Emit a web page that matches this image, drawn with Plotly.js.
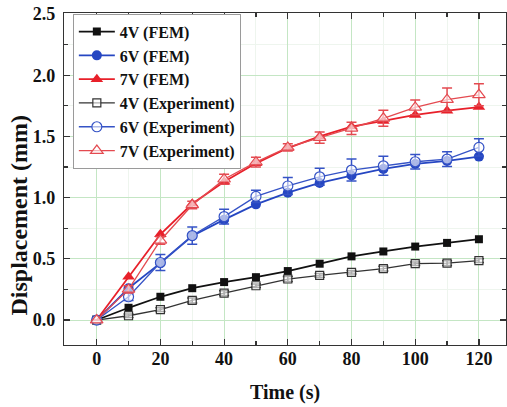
<!DOCTYPE html>
<html>
<head>
<meta charset="utf-8">
<script src="https://cdn.plot.ly/plotly-3.0.1.min.js"></script>
<style>html,body{margin:0;padding:0;background:#fff;}#chart{width:507px;height:407px;}</style>
</head>
<body>
<div id="chart"></div>
<script>
const time = [0, 10, 20, 30, 40, 50, 60, 70, 80, 90, 100, 110, 120];
const fem4 = [0, 0.10, 0.19, 0.26, 0.31, 0.35, 0.40, 0.46, 0.52, 0.56, 0.60, 0.63, 0.66];
const fem6 = [0, 0.26, 0.465, 0.686, 0.82, 0.945, 1.04, 1.12, 1.18, 1.234, 1.275, 1.30, 1.335];
const fem7 = [0, 0.354, 0.70, 0.95, 1.13, 1.28, 1.405, 1.50, 1.58, 1.626, 1.675, 1.71, 1.74];
const exp4 = [0, 0.035, 0.085, 0.16, 0.22, 0.28, 0.335, 0.365, 0.39, 0.42, 0.46, 0.465, 0.485];
const exp6 = [0, 0.19, 0.47, 0.69, 0.845, 1.01, 1.095, 1.17, 1.225, 1.26, 1.293, 1.315, 1.41];
const exp7 = [0, 0.25, 0.65, 0.94, 1.15, 1.29, 1.41, 1.49, 1.566, 1.648, 1.737, 1.80, 1.84];
const err4 = [0, 0.015, 0.015, 0.02, 0.02, 0.015, 0.02, 0.015, 0.015, 0.02, 0.015, 0.02, 0.015];
const err6 = [0, 0.03, 0.065, 0.07, 0.06, 0.05, 0.07, 0.07, 0.09, 0.078, 0.06, 0.06, 0.07];
const err7 = [0, 0.03, 0.03, 0.03, 0.04, 0.04, 0.03, 0.045, 0.05, 0.065, 0.06, 0.095, 0.09];
const names = ['4V (FEM)', '6V (FEM)', '7V (FEM)', '4V (Experiment)', '6V (Experiment)', '7V (Experiment)'];

const BLACK = '#111111', BLUE = '#2546c2', RED = '#e8202a';
const BLACK2 = '#333333', BLUE2 = '#3553c6', RED2 = '#e44a50';
const serif = "Liberation Serif";

function fem(y, name, color, symbol, size) {
  return {x: time, y: y, name: name, type: 'scatter', mode: 'lines+markers',
    line: {color: color, width: 1.8},
    marker: {symbol: symbol, size: size, color: color, line: {width: 0}}};
}
function exper(y, err, name, color, symbol, size) {
  return {x: time, y: y, name: name, type: 'scatter', mode: 'lines+markers',
    line: {color: color, width: 1.3},
    marker: {symbol: symbol, size: size, color: 'rgba(255,255,255,0.6)', line: {color: color, width: 1.2}},
    error_y: {type: 'data', array: err, visible: true, color: color, thickness: 1.5, width: 5}};
}

const data = [
  fem(fem4, names[0], BLACK, 'square', 8),
  fem(fem6, names[1], BLUE, 'circle', 10),
  fem(fem7, names[2], RED, 'triangle-up', 11),
  exper(exp4, err4, names[3], BLACK2, 'square', 8),
  exper(exp6, err6, names[4], BLUE2, 'circle', 10),
  exper(exp7, err7, names[5], RED2, 'triangle-up', 11)
];

const layout = {
  width: 507, height: 407,
  margin: {l: 64, r: 1, t: 13, b: 62},
  paper_bgcolor: '#ffffff', plot_bgcolor: '#ffffff',
  font: {family: serif, color: '#111', size: 17, weight: 'bold'},
  showlegend: true,
  legend: {x: 0.02, y: 0.998, xanchor: 'left', yanchor: 'top',
    bgcolor: '#ffffff', bordercolor: '#9a9a9a', borderwidth: 1,
    font: {family: serif, size: 16, color: '#111', weight: 'bold'},
    tracegroupgap: 0, itemwidth: 36},
  xaxis: {
    range: [-10.26, 128.5], tickvals: [0, 20, 40, 60, 80, 100, 120],
    ticks: 'inside', ticklen: 6, tickwidth: 1.2, tickcolor: '#333',
    showline: true, linecolor: '#333', linewidth: 1.2, mirror: 'ticks',
    showgrid: true, gridcolor: '#c4e6c4', gridwidth: 1, zeroline: false,
    minor: {tickvals: [10, 30, 50, 70, 90, 110], ticks: 'inside', ticklen: 4, tickcolor: '#333', showgrid: true, gridcolor: '#eef5ee', gridwidth: 1},
    tickfont: {family: serif, size: 18, weight: 'bold', color: '#111'},
    ticklabelstandoff: -3
  },
  yaxis: {
    range: [-0.204, 2.508], tickvals: [0, 0.5, 1.0, 1.5, 2.0, 2.5],
    ticktext: ['0.0', '0.5', '1.0', '1.5', '2.0', '2.5'],
    ticks: 'inside', ticklen: 6, tickwidth: 1.2, tickcolor: '#333',
    showline: true, linecolor: '#333', linewidth: 1.2, mirror: 'ticks',
    showgrid: true, gridcolor: '#c4e6c4', gridwidth: 1, zeroline: false,
    minor: {tickvals: [0.25, 0.75, 1.25, 1.75, 2.25], ticks: 'inside', ticklen: 4, tickcolor: '#333', showgrid: true, gridcolor: '#eef5ee', gridwidth: 1},
    tickfont: {family: serif, size: 18, weight: 'bold', color: '#111'},
    ticklabelstandoff: 4
  },
  annotations: [
    {text: 'Displacement (mm)', xref: 'paper', yref: 'paper', x: -0.104, y: 0.39,
     xanchor: 'center', yanchor: 'middle', textangle: -90, showarrow: false,
     font: {family: serif, size: 24, weight: 'bold', color: '#111'}},
    {text: 'Time (s)', xref: 'paper', yref: 'paper', x: 0.5, y: -0.142,
     xanchor: 'center', yanchor: 'middle', showarrow: false,
     font: {family: serif, size: 20, weight: 'bold', color: '#111'}}
  ]
};

Plotly.newPlot('chart', data, layout, {displayModeBar: false, staticPlot: true});
</script>
</body>
</html>
